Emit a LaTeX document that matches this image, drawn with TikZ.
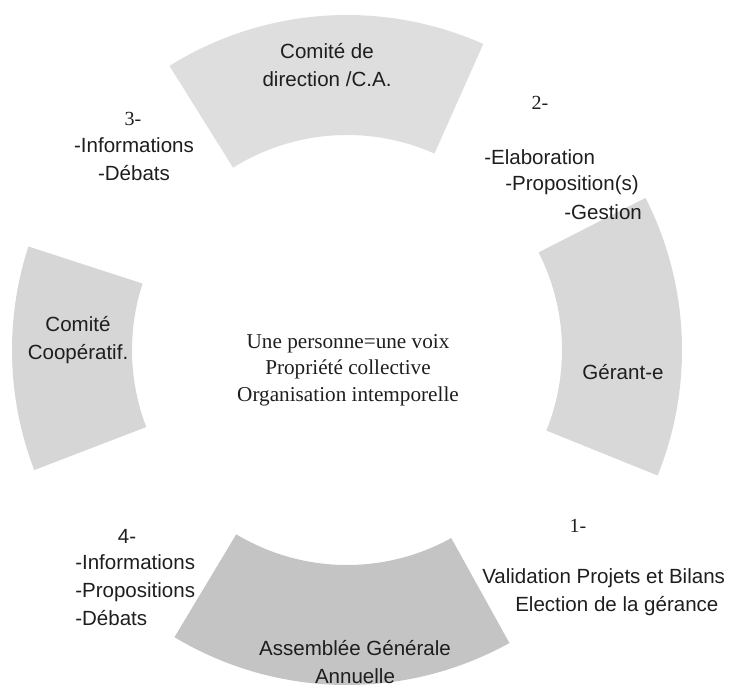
\documentclass[tikz,border=0pt]{standalone}
\usepackage{fontspec}
\setmainfont{Liberation Serif}
\setsansfont{Liberation Sans}
\usepackage{xcolor}
\usepackage{tikz}
\usetikzlibrary{positioning}

\definecolor{gristop}{HTML}{DEDEDE}
\definecolor{grisdroit}{HTML}{D8D8D8}
\definecolor{grisgauche}{HTML}{D6D6D6}
\definecolor{grisbas}{HTML}{C4C4C4}
\definecolor{encre}{HTML}{1E1E1E}

\begin{document}
\begin{tikzpicture}[
        x=0.75pt, y=0.75pt,
        etiquette/.style={font=\sffamily\fontsize{15.4}{21}\selectfont, text=encre, align=center, inner sep=0pt},
        puce/.style={font=\sffamily\fontsize{15.4}{21}\selectfont, text=encre, anchor=west, inner sep=0pt},
        numero/.style={font=\rmfamily\fontsize{15}{18}\selectfont, text=encre, inner sep=0pt},
        devise/.style={font=\rmfamily\fontsize{15.9}{19.9}\selectfont, text=encre, align=center, inner sep=0pt}
    ]
    \useasboundingbox (0,0) rectangle (730,690);
    \coordinate (ctr) at (347,340);

    % Secteurs
    \begin{scope}[shift={(ctr)}]
    \fill[gristop] (66:335) arc[start angle=66, end angle=122, radius=335] -- (122:215) arc[start angle=122, end angle=66, radius=215] -- cycle;
    \fill[grisdroit] (-22:335) arc[start angle=-22, end angle=27, radius=335] -- (27:215) arc[start angle=27, end angle=-22, radius=215] -- cycle;
    \fill[grisbas] (-121:335) arc[start angle=-121, end angle=-61, radius=335] -- (-61:215) arc[start angle=-61, end angle=-121, radius=215] -- cycle;
    \fill[grisgauche] (162:335) arc[start angle=162, end angle=201, radius=335] -- (201:215) arc[start angle=201, end angle=162, radius=215] -- cycle;
    \end{scope}

    % Noeuds
    \node[etiquette] (comite) at (327,625) {Comité de\\ direction /C.A.};
    \node[etiquette] (gerant) at (623,318) {Gérant-e};
    \node[etiquette] (assemblee) at (355,28) {Assemblée Générale\\ Annuelle};
    \node[etiquette] (cooperatif) at (78,350) {Comité\\ Coopératif.};
    \node[devise] (centre) at (348,320) {Une personne=une voix\\ Propriété collective\\ Organisation intemporelle};

    % Etapes
    \node[numero] (num3) at (133,571) {3-};
    \node[etiquette] (infos3) at (134,531) {-Informations\\ -Débats};
    \node[numero] (num2) at (540,587) {2-};
    \node[puce] (elab) at (484,533) {-Elaboration};
    \node[puce] (propos) at (505,505) {-Proposition(s)};
    \node[puce] (gestion) at (564,478) {-Gestion};
    \node[numero] (num1) at (578,164) {1-};
    \node[puce] (valid) at (482,112) {Validation Projets et Bilans};
    \node[puce] (election) at (515,84) {Election de la gérance};
    \node[etiquette] (num4) at (127,154) {4-};
    \node[puce, align=left] (infos4) at (75,100) {-Informations\\ -Propositions\\ -Débats};
\end{tikzpicture}
\end{document}
